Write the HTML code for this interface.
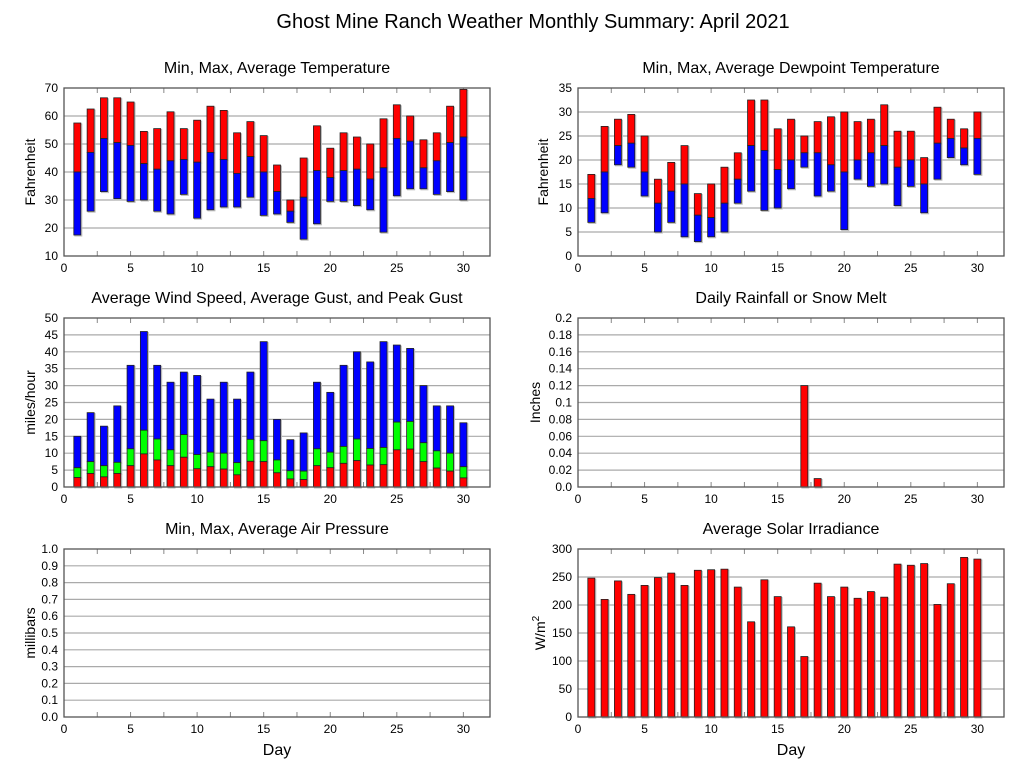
<!DOCTYPE html>
<html><head><meta charset="utf-8"><style>
body{margin:0;background:#fff;}
svg text{font-family:"Liberation Sans",Arial,sans-serif;fill:#000;}
</style></head><body>
<svg id="chart" width="1027" height="772" viewBox="0 0 1027 772" xmlns="http://www.w3.org/2000/svg">
<rect width="1027" height="772" fill="#fff"/>
<text x="533" y="28" font-size="20" text-anchor="middle">Ghost Mine Ranch Weather Monthly Summary: April 2021</text>
</svg>
<script>
const days=[1,2,3,4,5,6,7,8,9,10,11,12,13,14,15,16,17,18,19,20,21,22,23,24,25,26,27,28,29,30];
const tempMax=[57.5,62.5,66.5,66.5,65,54.5,55.5,61.5,55.5,58.5,63.5,62,54,58,53,42.5,30,45,56.5,48.5,54,52.5,50,59,64,60,51.5,54,63.5,69.5];
const tempAvg=[40,47,52,50.5,49.5,43,41,44,44.5,43.5,47,44.5,39.5,45.5,40,33,26,31,40.5,38,40.5,41,37.5,41.5,52,51,41.5,44,50.5,52.5];
const tempMin=[17.5,26,33,30.5,29.5,30,26,25,32,23.5,26.5,27.5,27.5,31,24.5,25,22,16,21.5,29.5,29.5,28,26.5,18.5,31.5,34,34,32,33,30];
const dewMax=[17,27,28.5,29.5,25,16,19.5,23,13,15,18.5,21.5,32.5,32.5,26.5,28.5,25,28,29,30,28,28.5,31.5,26,26,20.5,31,28.5,26.5,30];
const dewAvg=[12,17.5,23,23.5,17.5,11,13.5,15,8.5,8,11,16,23,22,18,20,21.5,21.5,19,17.5,20,21.5,23,18.5,20,15,23.5,24.5,22.5,24.5];
const dewMin=[7,9,19,18.5,12.5,5,7,4,3,4,5,11,13.5,9.5,10,14,18.5,12.5,13.5,5.5,16,14.5,15,10.5,14.5,9,16,20.5,19,17];
const windPeak=[15,22,18,24,36,46,36,31,34,33,26,31,26,34,43,20,14,16,31,28,36,40,37,43,42,41,30,24,24,19];
const windGust=[5.7,7.5,6.3,7.3,11.3,16.8,14.2,11,15.5,9.6,10.3,10,7.2,14.1,13.7,8,4.8,4.7,11.3,10.3,12,14.2,11.4,11.7,19.2,19.4,13.1,10.7,10,6];
const windAvg=[2.8,4,3,4,6.3,9.8,8,6.3,8.8,5.4,6,5.3,3.6,7.6,7.5,4.2,2.4,2.2,6.3,5.7,7,7.8,6.5,6.6,11,11.2,7.5,5.6,4.7,2.7];
const rain=[0,0,0,0,0,0,0,0,0,0,0,0,0,0,0,0,0.12,0.01,0,0,0,0,0,0,0,0,0,0,0,0];
const solar=[248,210,243,219,235,249,257,235,262,263,264,232,170,245,215,161,108,239,215,232,212,224,214,273,271,274,201,238,285,282];
const xTicks=[0,5,10,15,20,25,30];

const NS="http://www.w3.org/2000/svg";
const svg=document.getElementById('chart');
function mk(tag,attrs,parent){const e=document.createElementNS(NS,tag);for(const k in attrs)e.setAttribute(k,attrs[k]);(parent||svg).appendChild(e);return e;}

function panel(opt){
  const g=mk('g',{});
  
  
  const L=opt.left,T=opt.top,W=426,H=opt.h;
  const xs=d=>L+d*W/32;
  const ys=v=>T+H-(v-opt.ymin)/(opt.ymax-opt.ymin)*H;
  // title
  const t=mk('text',{x:L+W/2,y:T-15,'font-size':16,'text-anchor':'middle'},g);
  t.textContent=opt.title;
  
  
  // grid + y labels
  opt.yTicks.forEach((v,i)=>{
    const y=ys(v);
    if(i>0&&i<opt.yTicks.length-1){
      const gl=mk('line',{x1:L,x2:L+W,y1:y,y2:y,stroke:'#aaa','stroke-width':1.2},g);
      
      
    }
    const lb=mk('text',{x:L-6,y:y+4,'font-size':12,'text-anchor':'end'},g);
    lb.textContent=opt.yLabels[i];
    
    
  });
  // x minor ticks
  for(let d=2.5;d<32;d+=2.5){
    mk('line',{x1:xs(d),x2:xs(d),y1:T,y2:T+5,stroke:'#888'},g);
    mk('line',{x1:xs(d),x2:xs(d),y1:T+H,y2:T+H-5,stroke:'#888'},g);
  }
  xTicks.forEach(d=>{
    const lb=mk('text',{x:xs(d),y:T+H+16,'font-size':12,'text-anchor':'middle'},g);
    lb.textContent=d;
    
    
  });
  // y title
  const yt=mk('text',{x:0,y:0,'font-size':14,'text-anchor':'middle',transform:`translate(${opt.ytx},${T+H/2}) rotate(-90)`},g);
  if(opt.ysup){yt.textContent='W/m';const s=mk('tspan',{'font-size':10,dy:-6},yt);s.textContent='2';}
  else yt.textContent=opt.ytitle;
  
  
  if(opt.xtitle){
    const xt=mk('text',{x:L+W/2,y:T+H+38,'font-size':16,'text-anchor':'middle'},g);
    xt.textContent='Day';
    
    
  }
  // bars
  (opt.series||[]).forEach(s=>{
    days.forEach((d,i)=>{
      const lo=s.lo?s.lo[i]:opt.ymin, hi=s.hi[i];
      if(hi-lo<=0)return;
      const y1=ys(hi),y2=ys(lo);
      mk('rect',{x:xs(d)-2.5,y:y1+1,width:7,height:y2-y1,fill:'none',stroke:'#bbb','stroke-width':1},g);
      const r=mk('rect',{x:xs(d)-3.5,y:y1,width:7,height:y2-y1,fill:s.color,stroke:'#222','stroke-width':0.8},g);
      
      
    });
  });
  const fr=mk('rect',{x:L,y:T,width:W,height:H,fill:'none',stroke:'#555','stroke-width':1.3},g);
  
  
}
const r07=[0,10,20,30,40,50,60,70];
panel({name:'temperature-panel',title:'Min, Max, Average Temperature',left:64,top:88,h:168,ymin:10,ymax:70,
  yTicks:[10,20,30,40,50,60,70],yLabels:['10','20','30','40','50','60','70'],ytitle:'Fahrenheit',ytx:35,
  series:[{name:'max-temp',lo:tempAvg,hi:tempMax,color:'#f00'},{name:'min-temp',lo:tempMin,hi:tempAvg,color:'#00f'}]});
panel({name:'dewpoint-panel',title:'Min, Max, Average Dewpoint Temperature',left:578,top:88,h:168,ymin:0,ymax:35,
  yTicks:[0,5,10,15,20,25,30,35],yLabels:['0','5','10','15','20','25','30','35'],ytitle:'Fahrenheit',ytx:548,
  series:[{name:'max-dewpoint',lo:dewAvg,hi:dewMax,color:'#f00'},{name:'min-dewpoint',lo:dewMin,hi:dewAvg,color:'#00f'}]});
panel({name:'wind-panel',title:'Average Wind Speed, Average Gust, and Peak Gust',left:64,top:318,h:169,ymin:0,ymax:50,
  yTicks:[0,5,10,15,20,25,30,35,40,45,50],yLabels:['0','5','10','15','20','25','30','35','40','45','50'],ytitle:'miles/hour',ytx:35,
  series:[{name:'peak-gust',lo:windGust,hi:windPeak,color:'#00f'},{name:'avg-gust',lo:windAvg,hi:windGust,color:'#0f0'},{name:'avg-wind',hi:windAvg,color:'#f00'}]});
panel({name:'rainfall-panel',title:'Daily Rainfall or Snow Melt',left:578,top:318,h:169,ymin:0,ymax:0.2,
  yTicks:[0,0.02,0.04,0.06,0.08,0.1,0.12,0.14,0.16,0.18,0.2],yLabels:['0.0','0.02','0.04','0.06','0.08','0.1','0.12','0.14','0.16','0.18','0.2'],ytitle:'Inches',ytx:540,
  series:[{name:'rainfall',hi:rain,color:'#f00'}]});
panel({name:'pressure-panel',title:'Min, Max, Average Air Pressure',left:64,top:549,h:168,ymin:0,ymax:1,xtitle:true,
  yTicks:[0,0.1,0.2,0.3,0.4,0.5,0.6,0.7,0.8,0.9,1],yLabels:['0.0','0.1','0.2','0.3','0.4','0.5','0.6','0.7','0.8','0.9','1.0'],ytitle:'millibars',ytx:35,
  series:[]});
panel({name:'solar-panel',title:'Average Solar Irradiance',left:578,top:549,h:168,ymin:0,ymax:300,xtitle:true,
  yTicks:[0,50,100,150,200,250,300],yLabels:['0','50','100','150','200','250','300'],ysup:true,ytx:545,
  series:[{name:'solar',hi:solar,color:'#f00'}]});
</script>
</body></html>
